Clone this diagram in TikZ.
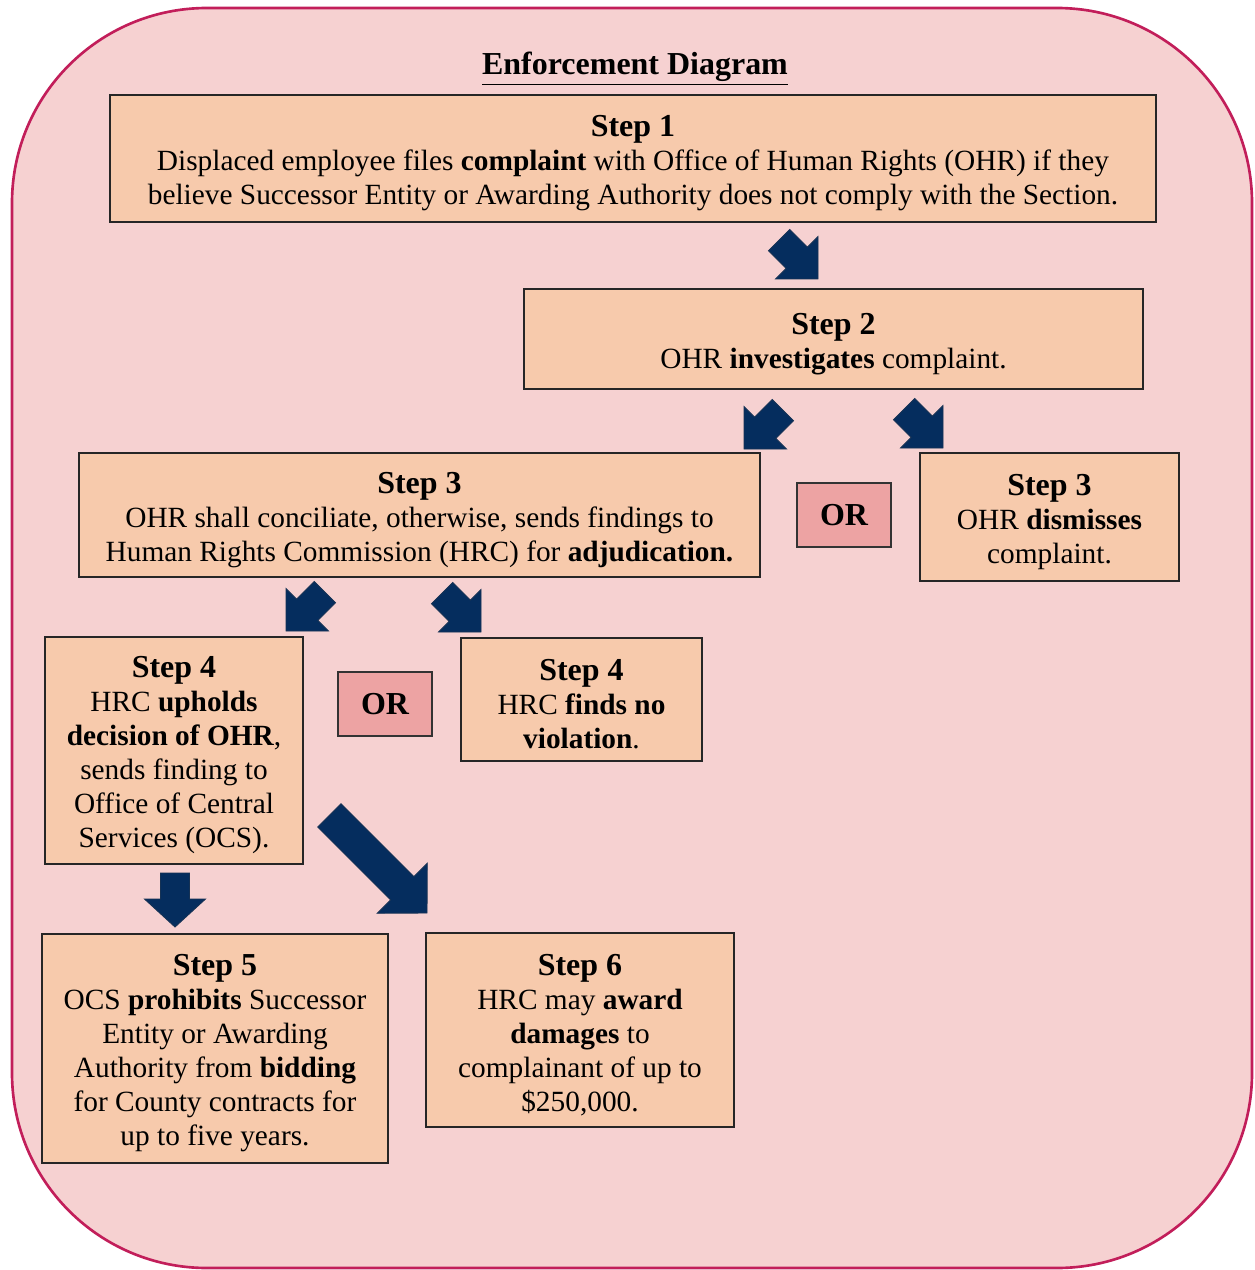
\documentclass[tikz,border=0pt]{standalone}
\usepackage{fontspec}
\setmainfont{Liberation Serif}
\definecolor{bgpink}{RGB}{246,209,209}
\definecolor{rimred}{RGB}{194,30,90}
\definecolor{peach}{RGB}{247,202,172}
\definecolor{orpink}{RGB}{237,163,163}
\definecolor{navy}{RGB}{5,45,94}
\definecolor{navyedge}{RGB}{22,50,84}
\newcommand{\stephead}[1]{{\fontsize{18.2}{19.35}\selectfont\bfseries #1}}
\tikzset{
  stepbox/.style={draw=black!85, line width=0.7pt, fill=peach, inner sep=0pt},
  steptext/.style={align=center, inner sep=0pt, font=\fontsize{16.7}{19.35}\selectfont},
  orbox/.style={draw=black!80, line width=0.7pt, fill=orpink, align=center, inner sep=0pt,
    minimum width=1.88cm, minimum height=1.28cm, font=\fontsize{18.2}{19.35}\selectfont\bfseries},
  navyarrow/.style={fill=navy, draw=navyedge, line width=0.5pt, line join=miter},
  pics/barrow/.style n args={4}{code={
    \filldraw[navyarrow] (-#1,-#2)--(-#3,-#2)--(-#3,-#4)--(0,0)--(-#3,#4)--(-#3,#2)--(-#1,#2)--cycle;}}
}
\begin{document}
\begin{tikzpicture}[x=0.02cm,y=-0.02cm]
\useasboundingbox (0,0) rectangle (1254,1270);
% background frame
\path[fill=bgpink, draw=rimred, line width=1.5pt, rounded corners=3.9cm]
  (12,8) rectangle (1252,1268);
% title
\node[font=\fontsize{18.2}{19.35}\selectfont\bfseries] (title) at (635,69) {\underline{Enforcement Diagram}};
% boxes
\node[stepbox, minimum width=20.92cm, minimum height=2.54cm] (s1) at (633,158.5) {};
\node[steptext] (t1) at ([yshift=-0.1cm]s1.center)
  {\stephead{Step 1}\\Displaced employee files \textbf{complaint} with Office of Human Rights (OHR) if they\\believe Successor Entity or Awarding Authority does not comply with the Section.};
\node[stepbox, minimum width=12.38cm, minimum height=2.0cm] (s2) at (833.5,339) {};
\node[steptext] (t2) at ([yshift=-0.1cm]s2.center)
  {\stephead{Step 2}\\OHR \textbf{investigates} complaint.};
\node[stepbox, minimum width=13.62cm, minimum height=2.48cm] (s3a) at (419.5,515) {};
\node[steptext] (t3a) at ([yshift=-0.1cm]s3a.center)
  {\stephead{Step 3}\\OHR shall conciliate, otherwise, sends findings to\\Human Rights Commission (HRC) for \textbf{adjudication.}};
\node[orbox] (or1) at (844,515) {OR};
\node[stepbox, minimum width=5.18cm, minimum height=2.56cm] (s3b) at (1049.5,517) {};
\node[steptext] (t3b) at ([yshift=-0.1cm]s3b.center)
  {\stephead{Step 3}\\OHR \textbf{dismisses}\\complaint.};
\node[stepbox, minimum width=5.16cm, minimum height=4.54cm] (s4a) at (174,750.5) {};
\node[steptext] (t4a) at ([yshift=-0.1cm]s4a.center)
  {\stephead{Step 4}\\HRC \textbf{upholds}\\\textbf{decision of OHR},\\sends finding to\\Office of Central\\Services (OCS).};
\node[orbox] (or2) at (385,704) {OR};
\node[stepbox, minimum width=4.82cm, minimum height=2.46cm] (s4b) at (581.5,699.5) {};
\node[steptext] (t4b) at ([yshift=-0.1cm]s4b.center)
  {\stephead{Step 4}\\HRC \textbf{finds no}\\\textbf{violation}.};
\node[stepbox, minimum width=6.92cm, minimum height=4.58cm] (s5) at (215,1048.5) {};
\node[steptext] (t5) at ([yshift=-0.1cm]s5.center)
  {\stephead{Step 5}\\OCS \textbf{prohibits} Successor\\Entity or Awarding\\Authority from \textbf{bidding}\\for County contracts for\\up to five years.};
\node[stepbox, minimum width=6.16cm, minimum height=3.88cm] (s6) at (580,1030) {};
\node[steptext] (t6) at ([yshift=-0.1cm]s6.center)
  {\stephead{Step 6}\\HRC may \textbf{award}\\\textbf{damages} to\\complainant of up to\\\$250,000.};
% block arrows (tip positions)
\pic[rotate=-45] (a1) at (818,279) {barrow={55}{15}{30}{30}};
\pic[rotate=-135] (a2) at (744,449) {barrow={55}{15}{30}{30}};
\pic[rotate=-45] (a3) at (943,448) {barrow={55}{15}{30}{30}};
\pic[rotate=-135] (a4) at (286,631) {barrow={55}{15}{30}{30}};
\pic[rotate=-45] (a5) at (481,632) {barrow={55}{15}{30}{30}};
\pic[rotate=-90] (a6) at (175,927) {barrow={54}{14.5}{28}{30.5}};
\pic[rotate=-45] (a7) at (427,913) {barrow={138}{16.5}{35}{35.4}};
\end{tikzpicture}
\end{document}
